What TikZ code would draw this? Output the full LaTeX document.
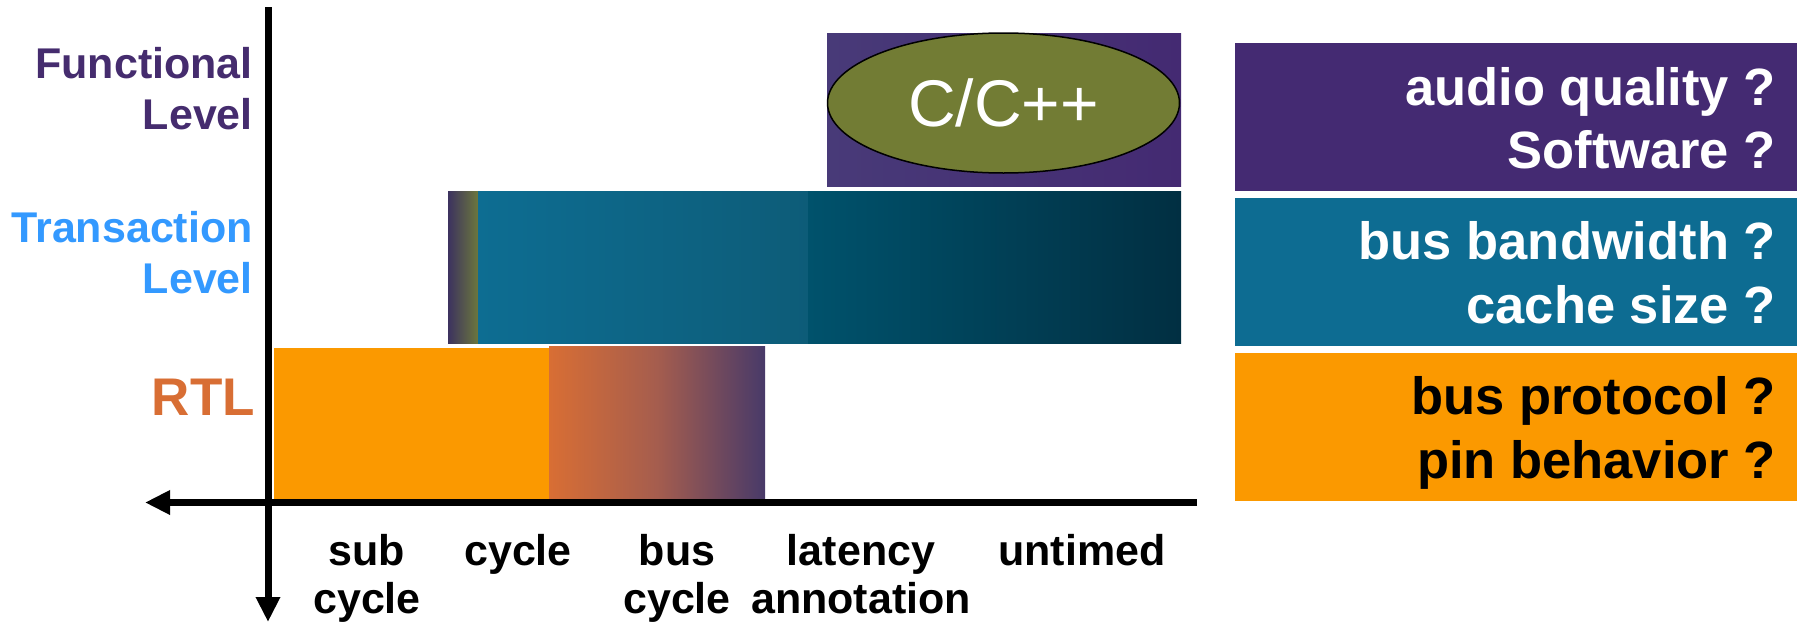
\documentclass[tikz,border=0pt]{standalone}
\usepackage{fontspec}
\setmainfont{Liberation Sans}
\usetikzlibrary{shapes.geometric,arrows.meta}
\definecolor{funcpurple}{RGB}{69,44,110}
\definecolor{translevel}{RGB}{51,153,255}
\definecolor{rtlorange}{RGB}{216,110,52}
\definecolor{boxpurple}{RGB}{68,42,114}
\definecolor{boxpurpleL}{RGB}{72,58,120}
\definecolor{boxteal}{RGB}{13,108,146}
\definecolor{boxorange}{RGB}{251,153,0}
\definecolor{olivefill}{RGB}{114,124,52}
\definecolor{stripA}{RGB}{60,50,95}
\definecolor{stripB}{RGB}{108,120,60}
\definecolor{tealA}{RGB}{13,109,146}
\definecolor{tealB}{RGB}{13,92,120}
\definecolor{tealC}{RGB}{0,82,108}
\definecolor{tealD}{RGB}{1,47,66}
\definecolor{gradmid}{RGB}{165,93,78}
\definecolor{gradend}{RGB}{72,58,105}
\begin{document}
\begin{tikzpicture}[x=1pt,y=-1pt,
  lvl/.style={font=\fontsize{43}{51}\selectfont\bfseries, anchor=base east, inner sep=0pt},
  tick/.style={font=\fontsize{43}{48}\selectfont\bfseries, anchor=base, inner sep=0pt},
  qtext/.style={font=\fontsize{52.5}{63}\selectfont\bfseries, anchor=base east, inner sep=0pt},
  qbox/.style={minimum width=562pt, minimum height=148pt, inner sep=0pt, draw=none},
  axisline/.style={line width=7pt, -{Triangle[width=23pt,length=25pt]}}]
\useasboundingbox (0,0) rectangle (1797,624);

% functional level bar with C/C++ ellipse
\shade[left color=boxpurpleL, right color=boxpurple] (827,33) rectangle (1181,186);
\node[ellipse, draw=black, line width=1.5pt, fill=olivefill, minimum width=352pt,
  minimum height=140pt, inner sep=0pt, text=white, font=\fontsize{66}{70}\selectfont]
  (cpp) at (1003.5,103) {C/C++};

% transaction level bar
\shade[left color=stripA, right color=stripB] (448,191) rectangle (478.5,343);
\shade[left color=tealA, right color=tealB] (478,191) rectangle (808.5,343);
\shade[left color=tealC, right color=tealD] (808,191) rectangle (1181,343);

% RTL bar
\fill[boxorange] (274,348) rectangle (549.5,499);
\shade[left color=rtlorange, right color=gradend, middle color=gradmid] (549,346) rectangle (765,499);

% axes
\coordinate (hstart) at (1197,502.5);
\coordinate (htip) at (145,502.5);
\draw[axisline] (hstart) -- (htip);
\coordinate (vstart) at (268,7);
\coordinate (vtip) at (268,622);
\draw[axisline] (vstart) -- (vtip);

% level labels
\node[lvl, text=funcpurple] (funcA) at (253,78) {Functional};
\node[lvl, text=funcpurple] (funcB) at (253,129) {Level};
\node[lvl, text=translevel] (transA) at (253,242) {Transaction};
\node[lvl, text=translevel] (transB) at (253,293) {Level};
\node[lvl, text=rtlorange, font=\fontsize{53}{60}\selectfont\bfseries] (rtl) at (255,415) {RTL};

% timing labels
\node[tick] (subA) at (367,565) {sub};
\node[tick] (subB) at (367,613) {cycle};
\node[tick] (cyc) at (518,565) {cycle};
\node[tick] (busA) at (677,565) {bus};
\node[tick] (busB) at (677,613) {cycle};
\node[tick] (latA) at (861,565) {latency};
\node[tick] (latB) at (861,613) {annotation};
\node[tick] (untimed) at (1082,565) {untimed};

% question boxes
\node[qbox, fill=boxpurple] (qfunc) at (1516,117) {};
\node[qbox, fill=boxteal] (qtrans) at (1516,272) {};
\node[qbox, fill=boxorange] (qrtl) at (1516,427) {};
\node[qtext, text=white] (q1) at (1776,105) {audio quality ?};
\node[qtext, text=white] (q2) at (1776,168) {Software ?};
\node[qtext, text=white] (q3) at (1776,259) {bus bandwidth ?};
\node[qtext, text=white] (q4) at (1776,323) {cache size ?};
\node[qtext, text=black] (q5) at (1776,414) {bus protocol ?};
\node[qtext, text=black] (q6) at (1776,478) {pin behavior ?};
\end{tikzpicture}
\end{document}
